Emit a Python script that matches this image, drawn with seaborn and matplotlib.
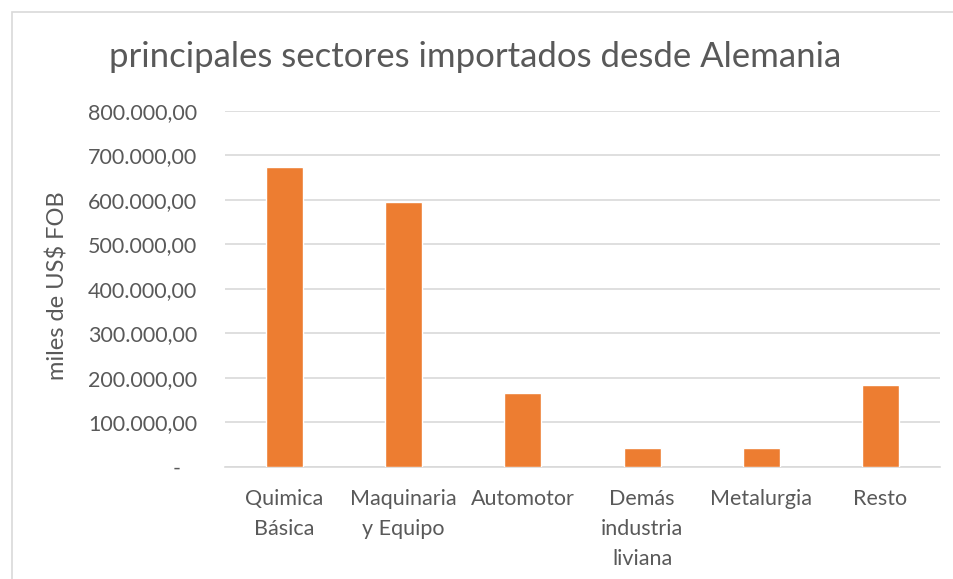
import matplotlib
matplotlib.use("Agg")
import matplotlib.pyplot as plt
import seaborn as sns
import pandas as pd
from matplotlib.patches import Rectangle

categories = ["Quimica\nBásica", "Maquinaria\ny Equipo", "Automotor",
              "Demás\nindustria\nliviana", "Metalurgia", "Resto"]
values = [674000, 595500, 165600, 42700, 42700, 183000]
yticks = [0, 100000, 200000, 300000, 400000, 500000, 600000, 700000, 800000]
ytick_labels = ["-   ", "100.000,00", "200.000,00", "300.000,00", "400.000,00",
                "500.000,00", "600.000,00", "700.000,00", "800.000,00"]
title = "principales sectores importados desde Alemania"
ylabel = "miles de US$ FOB"

sns.set_theme(style="white")
plt.rcParams['font.family'] = ['Lato', 'DejaVu Sans']
text_color = "#595959"
fs = 15.5

fig = plt.figure(figsize=(9.54, 5.79), dpi=100)
ax = fig.add_axes([225/954, 1 - 466.7/579, (940-225)/954, (466.7-110.7)/579])

df = pd.DataFrame({"cat": categories, "val": values})
sns.barplot(data=df, x="cat", y="val", color="#ED7D31", width=0.31,
            saturation=1, ax=ax, zorder=3)

ax.set_ylim(0, 800000)
ax.set_yticks(yticks)
ax.set_yticklabels(ytick_labels)
ax.yaxis.grid(True, color="#D9D9D9", linewidth=1.2, zorder=0)
ax.set_axisbelow(True)
for s in ["top", "right", "left"]:
    ax.spines[s].set_visible(False)
ax.spines["bottom"].set_color("#D9D9D9")
ax.spines["bottom"].set_linewidth(1.2)
ax.tick_params(axis="y", length=0, pad=20, labelsize=fs, labelcolor=text_color)
ax.tick_params(axis="x", length=0, pad=16, labelsize=fs, labelcolor=text_color)
for lbl in ax.get_xticklabels():
    lbl.set_linespacing(1.62)
    lbl.set_verticalalignment("top")
ax.set_xlabel("")
ax.set_ylabel(ylabel, fontsize=17, color=text_color)
ax.yaxis.set_label_coords(-(225 - 69) / 715, (466.7 - 286) / 356)

fig.text(475/954, 1 - 57/579, title, ha="center", va="center",
         fontsize=25, color=text_color)

fig.patches.append(Rectangle((12/954, -0.1), 1.1, 1 - 12/579 + 0.1,
                             transform=fig.transFigure, fill=False,
                             edgecolor="#D9D9D9", linewidth=1.2))

fig.savefig("out.png", dpi=100, facecolor="white")
